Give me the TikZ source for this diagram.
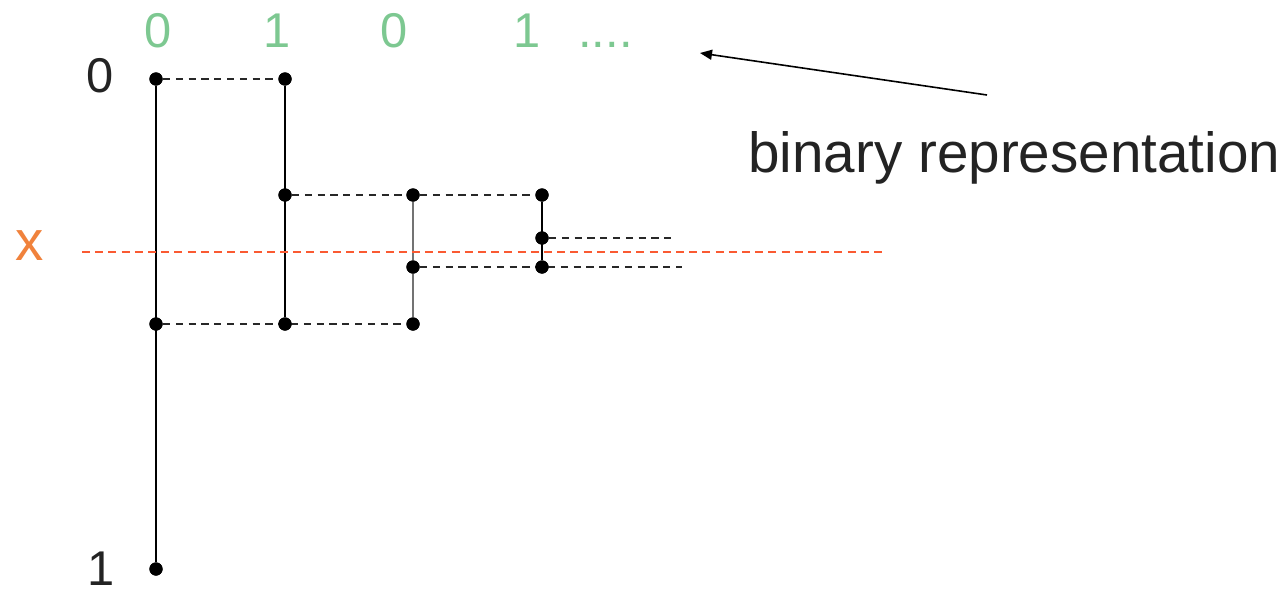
\documentclass[tikz,border=0pt]{standalone}
\usepackage{fontspec}
\setmainfont{Liberation Sans}
\usetikzlibrary{arrows.meta}
\definecolor{bingreen}{RGB}{125,200,145}
\definecolor{xorange}{RGB}{240,130,60}
\definecolor{xline}{RGB}{250,90,50}
\definecolor{txtgray}{RGB}{35,35,35}
\definecolor{dashgray}{RGB}{40,40,40}
\tikzset{
  dot/.style={circle,fill=black,inner sep=0pt,minimum size=6.6pt},
  solidline/.style={draw=black,line width=1pt},
  greyline/.style={draw=black!55,line width=1.2pt},
  dashline/.style={draw=dashgray,line width=0.85pt,dash pattern=on 3.6pt off 2.8pt},
  xdash/.style={draw=xline,line width=1pt,dash pattern=on 4pt off 2.6pt},
  digit/.style={inner sep=0pt,anchor=base,font=\fontsize{24.4}{28}\selectfont},
  greendigit/.style={digit,text=bingreen},
  bigtext/.style={inner sep=0pt,font=\fontsize{28.3}{32}\selectfont}
}
\begin{document}
\begin{tikzpicture}[x=0.5pt,y=-0.5pt]
\useasboundingbox (0,0) rectangle (1288,594);
% dots
\node[dot] (a0) at (156,79) {};
\node[dot] (b0) at (285,79) {};
\node[dot] (b1) at (285,195) {};
\node[dot] (c1) at (413,195) {};
\node[dot] (d1) at (542,195) {};
\node[dot] (d2) at (542,238) {};
\node[dot] (c3) at (413,267) {};
\node[dot] (d3) at (542,267) {};
\node[dot] (a4) at (156,324) {};
\node[dot] (b4) at (285,324) {};
\node[dot] (c4) at (413,324) {};
\node[dot] (a5) at (156,569) {};
\coordinate (e2) at (671,238);
\coordinate (e3) at (682,267);
\coordinate (xl) at (82,252);
\coordinate (xr) at (883,252);
\coordinate (atail) at (987,95);
\coordinate (ahead) at (700,53);
% vertical lines
\draw[solidline] (a0) -- (a5);
\draw[solidline] (b0) -- (b4);
\draw[greyline] (c1) -- (c4);
\draw[solidline] (d1) -- (d3);
% dashed connectors
\draw[dashline] (a0) -- (b0);
\draw[dashline] (b1) -- (d1);
\draw[dashline] (d2) -- (e2);
\draw[dashline] (c3) -- (e3);
\draw[dashline] (a4) -- (c4);
% x line
\draw[xdash] (xl) -- (xr);
% redraw dots on top
\foreach \n in {a0,b0,b1,c1,d1,d2,c3,d3,a4,b4,c4,a5}
  \fill (\n) circle (3.3pt);
% arrow
\draw[draw=black,line width=0.8pt,-{Triangle[length=6pt,width=5pt]}] (atail) -- (ahead);
% labels
\node[greendigit] (g0) at (158,47) {0};
\node[greendigit] (g1) at (277,47) {1};
\node[greendigit] (g2) at (394,47) {0};
\node[greendigit] (g3) at (527,47) {1};
\node[inner sep=0pt,anchor=base west,text=bingreen,font=\fontsize{24.4}{28}\selectfont] (gdots) at (578,47) {....};
\node[digit,text=txtgray] (l0) at (100,92) {0};
\node[digit,text=txtgray] (l1) at (101.5,585) {1};
\node[bigtext,anchor=base,text=xorange] (lx) at (30,260) {x};
\node[bigtext,anchor=base west,text=txtgray] (lbl) at (748,172) {binary representation};
\end{tikzpicture}
\end{document}
